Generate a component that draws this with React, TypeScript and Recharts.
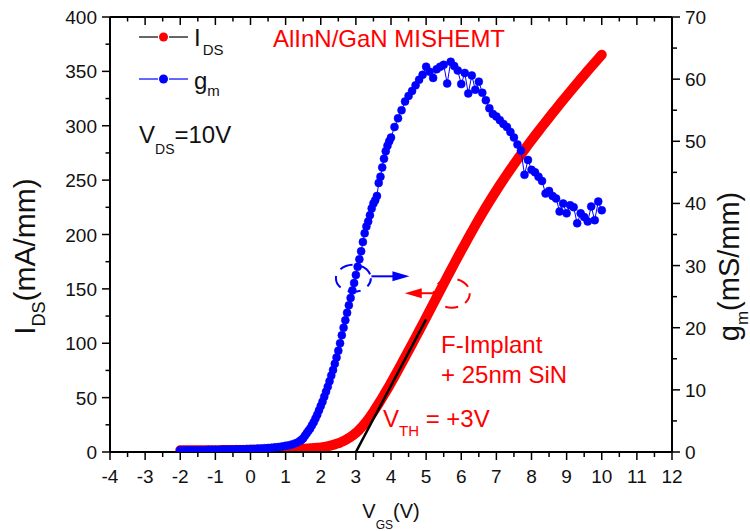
import React from 'react';
import { ComposedChart, Line, XAxis, YAxis, ReferenceDot } from 'recharts';

const FONT = '"Liberation Sans", Arial, Helvetica, sans-serif';

// Gate voltage V_GS (V)
const vgs = [
  -2.0, -1.9, -1.8, -1.7, -1.6, -1.5, -1.4, -1.3, -1.2, -1.1,
  -1.0, -0.9, -0.8, -0.7, -0.6, -0.5, -0.4, -0.3, -0.2, -0.1,
  0.0, 0.1, 0.2, 0.3, 0.4, 0.5, 0.6, 0.7, 0.8, 0.9,
  1.0, 1.1, 1.2, 1.3, 1.4,
  1.45, 1.5, 1.55, 1.6, 1.65, 1.7, 1.75, 1.8, 1.85, 1.9, 1.95, 2.0,
  2.05, 2.1, 2.15, 2.2, 2.25, 2.3, 2.35, 2.4, 2.45, 2.5,
  2.55, 2.6, 2.65, 2.7, 2.75, 2.8, 2.85, 2.9, 2.95, 3.0,
  3.05, 3.1, 3.15, 3.2, 3.25, 3.3, 3.35, 3.4, 3.45, 3.5,
  3.55, 3.6, 3.65, 3.7, 3.75, 3.8, 3.85, 3.9, 3.95, 4.0,
  4.1, 4.2, 4.3, 4.4, 4.5, 4.6, 4.7, 4.8, 4.9, 5.0,
  5.1, 5.2, 5.3, 5.4, 5.5, 5.6, 5.7, 5.8, 5.9, 6.0,
  6.1, 6.2, 6.3, 6.4, 6.5, 6.6, 6.7, 6.8, 6.9, 7.0,
  7.1, 7.2, 7.3, 7.4, 7.5, 7.6, 7.7, 7.8, 7.9, 8.0,
  8.1, 8.2, 8.3, 8.4, 8.5, 8.6, 8.7, 8.8, 8.9, 9.0,
  9.1, 9.2, 9.3, 9.4, 9.5, 9.6, 9.7, 9.8, 9.9, 10.0,
];

// Drain current I_DS (mA/mm)
const ids = [
  1.5, 1.5, 1.5, 1.6, 1.6, 1.6, 1.6, 1.7, 1.7, 1.7,
  1.7, 1.7, 1.8, 1.8, 1.8, 1.8, 1.9, 1.9, 1.9, 1.9,
  2.0, 2.0, 2.0, 2.1, 2.1, 2.1, 2.2, 2.2, 2.3, 2.3,
  2.4, 2.5, 2.6, 2.7, 2.8,
  2.9, 3.0, 3.1, 3.2, 3.3, 3.4, 3.5, 3.6, 3.7, 3.9, 4.0, 4.2,
  4.4, 4.7, 5.0, 5.3, 5.7, 6.1, 6.5, 7.0, 7.5, 8.0,
  8.7, 9.4, 10.2, 11.0, 11.9, 12.9, 13.9, 15.0, 16.2, 17.5,
  19.0, 20.6, 22.3, 24.1, 26.0, 28.0, 30.1, 32.3, 34.6, 37.0,
  39.5, 42.0, 44.6, 47.2, 49.9, 52.6, 55.3, 58.0, 60.8, 63.6,
  69.4, 75.3, 81.2, 87.2, 93.2, 99.2, 105.3, 111.4, 117.5, 123.7,
  129.9, 136.1, 142.3, 148.5, 154.7, 160.9, 167.0, 173.1, 179.1, 185.1,
  191.0, 196.9, 202.7, 208.4, 214.0, 219.5, 224.9, 230.2, 235.4, 240.5,
  245.5, 250.4, 255.2, 259.9, 264.5, 269.1, 273.6, 278.0, 282.4, 286.7,
  290.9, 295.1, 299.3, 303.4, 307.5, 311.6, 315.6, 319.6, 323.6, 327.5,
  331.4, 335.3, 339.1, 342.9, 346.7, 350.5, 354.2, 357.9, 361.6, 365.3,
];

// Transconductance g_m (mS/mm)
const gm = [
  0.3, 0.3, 0.3, 0.3, 0.3, 0.3, 0.3, 0.3, 0.35, 0.35,
  0.35, 0.35, 0.4, 0.4, 0.4, 0.4, 0.45, 0.45, 0.45, 0.5,
  0.5, 0.5, 0.55, 0.55, 0.6, 0.65, 0.7, 0.75, 0.8, 0.9,
  1.0, 1.1, 1.25, 1.45, 1.75,
  1.95, 2.2, 2.6, 3.0, 3.4, 3.8, 4.3, 4.8, 5.4, 6.0, 6.7, 7.4,
  8.1, 8.9, 9.7, 10.5, 11.4, 12.3, 13.2, 14.2, 15.2, 16.3,
  17.5, 18.8, 20.0, 21.2, 22.4, 23.6, 24.8, 26.0, 27.2, 28.5,
  29.8, 31.0, 32.3, 33.8, 35.2, 36.3, 37.1, 38.1, 39.2, 40.0,
  40.5, 41.2, 43.3, 44.3, 45.8, 47.2, 48.4, 49.3, 50.0, 50.6,
  52.3, 53.7, 55.0, 56.4, 57.3, 58.1, 59.0, 59.9, 60.7, 62.0,
  61.2, 60.2, 61.6, 62.0, 62.3, 59.3, 62.8, 62.1, 61.4, 59.2,
  61.0, 57.7, 60.6, 58.3, 59.6, 57.8, 56.6, 55.3, 54.4, 54.0,
  53.4, 52.8, 52.3, 51.5, 50.6, 49.5, 48.5, 44.6, 47.0, 45.4,
  45.0, 44.3, 43.6, 41.6, 42.0, 41.2, 40.8, 38.7, 40.0, 38.4,
  39.7, 39.4, 36.8, 38.4, 37.8, 37.1, 39.5, 37.3, 40.3, 38.9,
];

// Threshold-extraction tangent line (V_GS, I_DS)
const tangentV = [3, 5];
const tangentI = [0, 122];

// Axis ticks
const xTicks = [
  -4, -3.5, -3, -2.5, -2, -1.5, -1, -0.5, 0, 0.5, 1, 1.5, 2, 2.5, 3, 3.5, 4,
  4.5, 5, 5.5, 6, 6.5, 7, 7.5, 8, 8.5, 9, 9.5, 10, 10.5, 11, 11.5, 12,
];
const leftTicks = [0, 25, 50, 75, 100, 125, 150, 175, 200, 225, 250, 275, 300, 325, 350, 375, 400];
const rightTicks = [0, 5, 10, 15, 20, 25, 30, 35, 40, 45, 50, 55, 60, 65, 70];

const rows = vgs.map((v, i) => ({ vgs: v, ids: ids[i], gm: gm[i] }));
const tangentRows = tangentV.map((v, i) => ({ vgs: v, tan: tangentI[i] }));

const RED = '#ff0000';
const BLUE = '#0000ff';
const TXT = '#111';

const BottomTick = (props: any) => {
  const { x, y, payload } = props;
  const v = payload.value as number;
  const major = Number.isInteger(v);
  return (
    <g>
      <line x1={x} y1={y} x2={x} y2={y + (major ? 8 : 5)} stroke="#000" strokeWidth={1.5} />
      {major && (
        <text x={x} y={y + 31} textAnchor="middle" fontSize={19} fontFamily={FONT} fill={TXT}>
          {v}
        </text>
      )}
    </g>
  );
};

const TopTick = (props: any) => {
  const { x, y, payload } = props;
  const v = payload.value as number;
  const major = Number.isInteger(v);
  return <line x1={x} y1={y} x2={x} y2={y + (major ? 8 : 4.5)} stroke="#000" strokeWidth={1.5} />;
};

const LeftTick = (props: any) => {
  const { x, y, payload } = props;
  const v = payload.value as number;
  const major = v % 50 === 0;
  return (
    <g>
      <line x1={x - (major ? 8 : 4.5)} y1={y} x2={x} y2={y} stroke="#000" strokeWidth={1.5} />
      {major && (
        <text x={x - 13} y={y + 7} textAnchor="end" fontSize={19} fontFamily={FONT} fill={TXT}>
          {v}
        </text>
      )}
    </g>
  );
};

const RightTick = (props: any) => {
  const { x, y, payload } = props;
  const v = payload.value as number;
  const major = v % 10 === 0;
  return (
    <g>
      <line x1={x} y1={y} x2={x + (major ? 8 : 5)} y2={y} stroke="#000" strokeWidth={1.5} />
      {major && (
        <text x={x + 13} y={y + 7} textAnchor="start" fontSize={19} fontFamily={FONT} fill={TXT}>
          {v}
        </text>
      )}
    </g>
  );
};

const LeftLabel = (props: any) => {
  const vb = props.viewBox || { x: 0, y: 17, width: 110, height: 435 };
  const tx = vb.x + 35;
  const ty = vb.y + vb.height / 2 + 22;
  return (
    <text x={tx} y={ty} transform={`rotate(-90, ${tx}, ${ty})`} textAnchor="middle" fontSize={30} fontFamily={FONT} fill={TXT}>
      <tspan>I</tspan>
      <tspan dy={10} fontSize={18}>DS</tspan>
      <tspan dy={-10}>(mA/mm)</tspan>
    </text>
  );
};

const RightLabel = (props: any) => {
  const vb = props.viewBox || { x: 672, y: 17, width: 78, height: 435 };
  const tx = vb.x + 66.5;
  const ty = vb.y + vb.height / 2 + 32;
  return (
    <text x={tx} y={ty} transform={`rotate(-90, ${tx}, ${ty})`} textAnchor="middle" fontSize={29} fontFamily={FONT} fill={TXT}>
      <tspan>g</tspan>
      <tspan dy={9} fontSize={17}>m</tspan>
      <tspan dy={-9}>(mS/mm)</tspan>
    </text>
  );
};

const BottomLabel = (props: any) => {
  const vb = props.viewBox || { x: 110, y: 452, width: 562, height: 79 };
  const tx = vb.x + vb.width / 2;
  const ty = vb.y + 66;
  return (
    <text x={tx} y={ty} textAnchor="middle" fontSize={20} fontFamily={FONT} fill={TXT}>
      <tspan>V</tspan>
      <tspan dy={11} fontSize={12}>GS</tspan>
      <tspan dy={-11}>(V)</tspan>
    </text>
  );
};

const LegendShape = (p: any) => {
  const { cx, cy } = p;
  const row = (y: number, lineColor: string, dotColor: string, main: string, sub: string, subDy: number) => (
    <g>
      <line x1={cx} y1={y} x2={cx + 19} y2={y} stroke={lineColor} strokeWidth={1.2} />
      <circle cx={cx + 24.5} cy={y} r={4.5} fill={dotColor} />
      <line x1={cx + 30} y1={y} x2={cx + 49} y2={y} stroke={lineColor} strokeWidth={1.2} />
      <text x={cx + 55} y={y + (main === 'I' ? 9 : 10)} fontSize={24} fontFamily={FONT} fill={TXT}>
        <tspan>{main}</tspan>
        <tspan dx={main === 'I' ? 2 : 0} dy={subDy} fontSize={15}>{sub}</tspan>
      </text>
    </g>
  );
  return (
    <g>
      {row(cy, '#000', RED, 'I', 'DS', 9)}
      {row(cy + 42, BLUE, BLUE, 'g', 'm', 7)}
    </g>
  );
};

const VdsShape = (p: any) => (
  <text x={p.cx} y={p.cy} fontSize={24} fontFamily={FONT} fill={TXT}>
    <tspan>V</tspan>
    <tspan dy={11} fontSize={14}>DS</tspan>
    <tspan dy={-11}>=10V</tspan>
  </text>
);

const TitleShape = (p: any) => (
  <text x={p.cx} y={p.cy} fontSize={24} fontFamily={FONT} fill={RED}>AlInN/GaN MISHEMT</text>
);

const ImplantShape = (p: any) => (
  <g>
    <text x={p.cx} y={p.cy} fontSize={24} fontFamily={FONT} fill={RED}>F-Implant</text>
    <text x={p.cx} y={p.cy + 30.6} fontSize={24} fontFamily={FONT} fill={RED}>+ 25nm SiN</text>
  </g>
);

const VthShape = (p: any) => (
  <text x={p.cx} y={p.cy} fontSize={24} fontFamily={FONT} fill={RED}>
    <tspan>V</tspan>
    <tspan dy={9} fontSize={15}>TH</tspan>
    <tspan dy={-9}> = +3V</tspan>
  </text>
);

const BlueMarker = (p: any) => {
  const { cx, cy } = p;
  return (
    <g>
      <ellipse cx={cx} cy={cy} rx={17.5} ry={13.5} fill="none" stroke={BLUE} strokeWidth={2} strokeDasharray="13 8" strokeDashoffset={4} />
      <line x1={cx + 18} y1={cy - 2} x2={cx + 42} y2={cy - 2} stroke={BLUE} strokeWidth={2} />
      <polygon points={`${cx + 56},${cy - 2} ${cx + 39},${cy - 7} ${cx + 39},${cy + 3}`} fill={BLUE} />
    </g>
  );
};

const RedMarker = (p: any) => {
  const { cx, cy } = p;
  return (
    <g>
      <ellipse cx={cx} cy={cy} rx={18} ry={14.5} fill="none" stroke={RED} strokeWidth={2} strokeDasharray="13 8" strokeDashoffset={2} />
      <line x1={cx - 15} y1={cy} x2={cx - 32} y2={cy} stroke={RED} strokeWidth={2} />
      <polygon points={`${cx - 47},${cy} ${cx - 30},${cy - 5} ${cx - 30},${cy + 5}`} fill={RED} />
    </g>
  );
};

const axisLine = { stroke: '#000', strokeWidth: 2 };

export default function App() {
  return (
    <div style={{ position: 'absolute', left: 0, top: 0, width: 750, height: 531, background: '#fff' }}>
      <ComposedChart width={750} height={531} data={rows} margin={{ top: 0, right: 0, bottom: 0, left: 0 }}>
        <XAxis
          dataKey="vgs"
          type="number"
          domain={[-4, 12]}
          ticks={xTicks}
          interval={0}
          height={79}
          tickSize={0}
          tickMargin={0}
          tickLine={false}
          axisLine={axisLine}
          tick={<BottomTick />}
          label={<BottomLabel />}
          allowDataOverflow
        />
        <XAxis
          xAxisId="top"
          orientation="top"
          dataKey="vgs"
          type="number"
          domain={[-4, 12]}
          ticks={xTicks}
          interval={0}
          height={17}
          tickSize={0}
          tickMargin={0}
          tickLine={false}
          axisLine={axisLine}
          tick={<TopTick />}
          allowDataOverflow
        />
        <YAxis
          yAxisId="left"
          type="number"
          domain={[0, 400]}
          ticks={leftTicks}
          interval={0}
          width={110}
          tickSize={0}
          tickMargin={0}
          tickLine={false}
          axisLine={axisLine}
          tick={<LeftTick />}
          label={<LeftLabel />}
          allowDataOverflow
        />
        <YAxis
          yAxisId="right"
          orientation="right"
          type="number"
          domain={[0, 70]}
          ticks={rightTicks}
          interval={0}
          width={78}
          tickSize={0}
          tickMargin={0}
          tickLine={false}
          axisLine={axisLine}
          tick={<RightTick />}
          label={<RightLabel />}
          allowDataOverflow
        />
        <Line
          yAxisId="left"
          dataKey="ids"
          type="linear"
          stroke={RED}
          strokeWidth={10}
          strokeLinejoin="round"
          strokeLinecap="round"
          dot={false}
          activeDot={false}
          isAnimationActive={false}
        />
        <Line
          yAxisId="left"
          data={tangentRows}
          dataKey="tan"
          type="linear"
          stroke="#000"
          strokeWidth={2.5}
          dot={false}
          activeDot={false}
          legendType="none"
          isAnimationActive={false}
        />
        <Line
          yAxisId="right"
          dataKey="gm"
          type="linear"
          stroke={BLUE}
          strokeWidth={1}
          dot={{ r: 4, fill: BLUE, stroke: BLUE, strokeWidth: 0.5 }}
          activeDot={false}
          isAnimationActive={false}
        />
        <ReferenceDot yAxisId="right" x={2.93} y={27.95} r={0} shape={BlueMarker} ifOverflow="visible" />
        <ReferenceDot yAxisId="left" x={5.73} y={146} r={0} shape={RedMarker} ifOverflow="visible" />
        <ReferenceDot yAxisId="left" x={-3.174} y={381.6} r={0} shape={LegendShape} ifOverflow="visible" />
        <ReferenceDot yAxisId="left" x={-3.174} y={283.7} r={0} shape={VdsShape} ifOverflow="visible" />
        <ReferenceDot yAxisId="left" x={0.6406} y={372.7} r={0} shape={TitleShape} ifOverflow="visible" />
        <ReferenceDot yAxisId="left" x={5.4235} y={91.3} r={0} shape={ImplantShape} ifOverflow="visible" />
        <ReferenceDot yAxisId="left" x={3.772} y={23.0} r={0} shape={VthShape} ifOverflow="visible" />
      </ComposedChart>
    </div>
  );
}
